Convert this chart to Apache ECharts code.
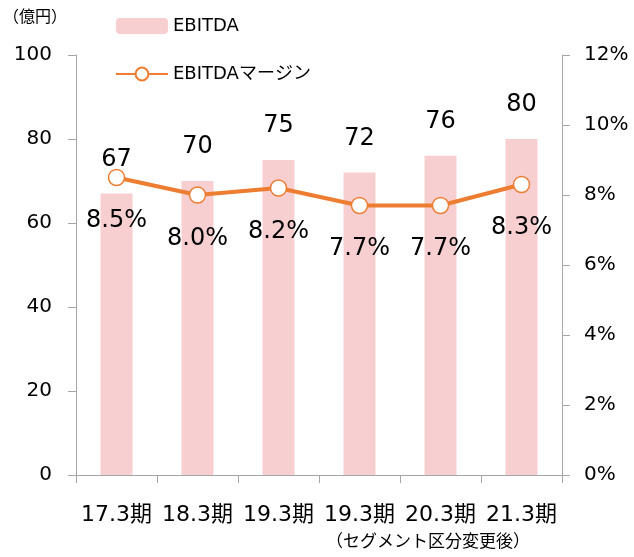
<!DOCTYPE html>
<html>
<head>
<meta charset="utf-8">
<script src="https://cdn.jsdelivr.net/npm/echarts@6/dist/echarts.min.js"></script>
<style>
html, body { margin: 0; padding: 0; background: #fff; }
#main { width: 634px; height: 557px; }
</style>
</head>
<body>
<div id="main"></div>
<script>
var categories = ['17.3期', '18.3期', '19.3期', '19.3期', '20.3期', '21.3期'];
var ebitda = [67, 70, 75, 72, 76, 80];
var margin = [8.5, 8.0, 8.2, 7.7, 7.7, 8.3];
var leftTicks = [0, 20, 40, 60, 80, 100];
var rightTicks = [0, 2, 4, 6, 8, 10, 12];

var font = '"DejaVu Sans", "Noto Sans CJK JP", sans-serif';
var axisGray = '#A6A6A6';

var chart = echarts.init(document.getElementById('main'));
var option = {
    backgroundColor: '#fff',
    textStyle: { fontFamily: font },
    animation: false,
    grid: { left: 76, right: 72, top: 55, bottom: 82, outerBoundsMode: 'none' },
    legend: {
        orient: 'vertical',
        left: 110,
        top: 12,
        itemGap: 30,
        itemWidth: 52,
        itemHeight: 16,
        textStyle: { fontSize: 18, color: '#000', fontFamily: font },
        data: ['EBITDA', 'EBITDAマージン']
    },
    graphic: [
        { type: 'text', left: 3, top: 10, style: { text: '（億円）', fontSize: 16, fill: '#000', fontFamily: font } },
        { type: 'text', left: 326, top: 534, style: { text: '（セグメント区分変更後）', fontSize: 17, fill: '#000', fontFamily: font } }
    ],
    xAxis: {
        type: 'category',
        data: categories,
        axisLine: { lineStyle: { color: axisGray } },
        axisTick: { show: true, length: 8, lineStyle: { color: axisGray } },
        axisLabel: { color: '#000', fontSize: 22, margin: 29, interval: 0, fontFamily: font }
    },
    yAxis: [{
        type: 'value',
        min: leftTicks[0],
        max: leftTicks[leftTicks.length - 1],
        interval: 20,
        splitLine: { show: false },
        axisLine: { show: true, lineStyle: { color: axisGray } },
        axisTick: { show: true, length: 8, lineStyle: { color: axisGray } },
        axisLabel: { color: '#000', fontSize: 20, margin: 24, fontFamily: font }
    }, {
        type: 'value',
        min: rightTicks[0],
        max: rightTicks[rightTicks.length - 1],
        interval: 2,
        splitLine: { show: false },
        axisLine: { show: true, lineStyle: { color: axisGray } },
        axisTick: { show: true, length: 8, lineStyle: { color: axisGray } },
        axisLabel: { color: '#000', fontSize: 20, margin: 22, formatter: '{value}%', fontFamily: font }
    }],
    series: [{
        name: 'EBITDA',
        type: 'bar',
        data: ebitda,
        barWidth: 32,
        itemStyle: { color: '#F8CFD1' },
        label: { show: true, position: 'top', distance: 22, fontSize: 24, color: '#000', fontFamily: font }
    }, {
        name: 'EBITDAマージン',
        type: 'line',
        yAxisIndex: 1,
        data: margin,
        symbol: 'circle',
        symbolSize: 16,
        lineStyle: { color: '#ED7D31', width: 4 },
        itemStyle: { color: '#fff', borderColor: '#ED7D31', borderWidth: 1.5 },
        label: {
            show: true, position: 'bottom', distance: 23, fontSize: 24, color: '#000', fontFamily: font,
            formatter: function (p) { return p.value.toFixed(1) + '%'; }
        },
        z: 5
    }]
};
chart.setOption(option);
</script>
</body>
</html>
